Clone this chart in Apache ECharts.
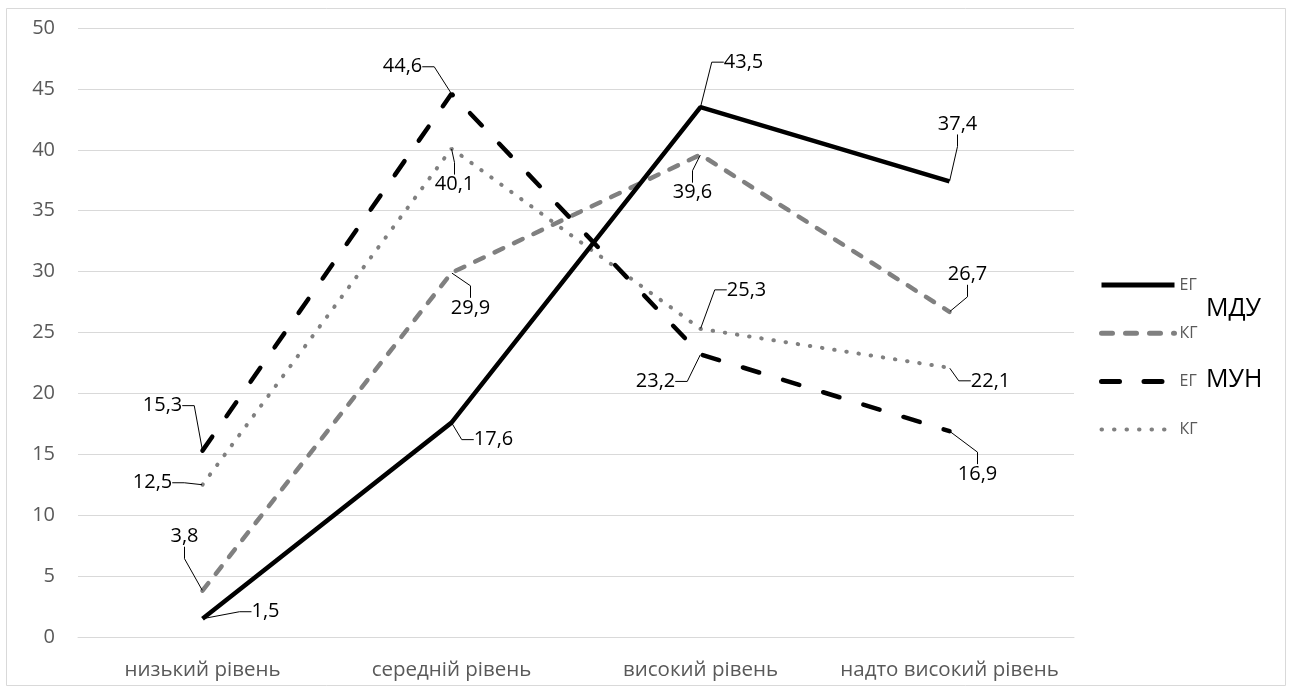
<!DOCTYPE html>
<html>
<head>
<meta charset="utf-8">
<script src="https://cdn.jsdelivr.net/npm/echarts@6/dist/echarts.min.js"></script>
<style>
  html, body { margin: 0; padding: 0; background: #fff; }
  #chart { width: 1292px; height: 689px; }
</style>
</head>
<body>
<div id="chart"></div>
<script>
// Category axis and value ticks
const categories = ['низький рівень', 'середній рівень', 'високий рівень', 'надто високий рівень'];
const yTicks = { min: 0, max: 50, interval: 5 };

// Results by group (%)
const egMDU = [1.5, 17.6, 43.5, 37.4];
const kgMDU = [3.8, 29.9, 39.6, 26.7];
const egMUN = [15.3, 44.6, 23.2, 16.9];
const kgMUN = [12.5, 40.1, 25.3, 22.1];

// Label placement relative to each point (px)
const offEgMDU = [[63, -7], [42, 17], [43, -45], [8, -57]];
const offKgMDU = [[-18, -54], [19, 35], [-8, 38], [18, -37]];
const offEgMUN = [[-40, -45], [-49, -27], [-45, 27], [28, 43]];
const offKgMUN = [[-50, -2], [3, 36], [46, -39], [41, 13]];

const FONT = '"Open Sans", "Noto Sans", sans-serif';

// Line looks shared by plot and legend
const STYLE = {
  egMDU: { color: '#000', width: 4.5, type: 'solid' },
  kgMDU: { color: '#808080', width: 4.5, type: [9.5, 12], cap: 'round' },
  egMUN: { color: '#000', width: 4.5, type: [17, 25], cap: 'round' },
  kgMUN: { color: '#808080', width: 4, type: [0.5, 11.8], cap: 'round' }
};

function fmt(v) { return String(v).replace('.', ','); }

function makeSeries(name, values, offsets, lineStyle, z) {
  return {
    name: name,
    type: 'line',
    data: values,
    z: z,
    symbol: 'circle',
    symbolSize: 1,
    itemStyle: { color: 'rgba(0,0,0,0)' },
    lineStyle: lineStyle,
    emphasis: { disabled: true },
    label: {
      show: true,
      position: 'inside',
      color: '#000',
      fontFamily: FONT,
      fontSize: 20,
      formatter: p => fmt(p.value)
    },
    labelLine: {
      show: true,
      length2: 12,
      lineStyle: { color: '#000', width: 1 }
    },
    labelLayout: p => ({ dx: offsets[p.dataIndex][0], dy: offsets[p.dataIndex][1] })
  };
}

const chart = echarts.init(document.getElementById('chart'), null, { renderer: 'canvas' });

chart.setOption({
  animation: false,
  backgroundColor: '#fff',
  textStyle: { fontFamily: FONT },
  grid: { left: 78, right: 218, top: 28, bottom: 52 },
  xAxis: {
    type: 'category',
    data: categories,
    boundaryGap: true,
    axisLine: { lineStyle: { color: '#d9d9d9', width: 1 } },
    axisTick: { show: false },
    axisLabel: { color: '#595959', fontSize: 20.5, fontFamily: FONT, margin: 23, interval: 0 }
  },
  yAxis: {
    type: 'value',
    min: yTicks.min,
    max: yTicks.max,
    interval: yTicks.interval,
    axisLine: { show: false },
    axisTick: { show: false },
    splitLine: { lineStyle: { color: '#d9d9d9', width: 1 } },
    axisLabel: { color: '#595959', fontSize: 20, fontFamily: FONT, margin: 23 }
  },
  legend: {
    orient: 'vertical',
    left: 1099,
    top: 277,
    padding: 0,
    itemWidth: 73,
    itemHeight: 14,
    itemGap: 32.2,
    selectedMode: false,
    itemStyle: { opacity: 0 },
    textStyle: { color: '#595959', fontSize: 16, fontFamily: FONT },
    formatter: name => name.split(' ')[0],
    data: [
      { name: 'ЕГ МДУ', lineStyle: Object.assign({}, STYLE.egMDU, { width: 5 }) },
      { name: 'КГ МДУ', lineStyle: Object.assign({}, STYLE.kgMDU, { width: 5, type: [11, 13] }) },
      { name: 'ЕГ МУН', lineStyle: Object.assign({}, STYLE.egMUN, { width: 5, type: [18, 24.5] }) },
      { name: 'КГ МУН', lineStyle: Object.assign({}, STYLE.kgMUN, { width: 4, type: [0.5, 12] }) }
    ]
  },
  graphic: [
    {
      type: 'rect',
      silent: true,
      shape: { x: 6.5, y: 8.5, width: 1279, height: 677 },
      style: { fill: 'none', stroke: '#d9d9d9', lineWidth: 1 }
    },
    {
      type: 'text', left: 1206, top: 296, silent: true,
      style: { text: 'МДУ', fill: '#000', font: '25px ' + FONT }
    },
    {
      type: 'text', left: 1206, top: 367, silent: true,
      style: { text: 'МУН', fill: '#000', font: '25px ' + FONT }
    }
  ],
  series: [
    makeSeries('КГ МУН', kgMUN, offKgMUN, STYLE.kgMUN, 2),
    makeSeries('КГ МДУ', kgMDU, offKgMDU, STYLE.kgMDU, 3),
    makeSeries('ЕГ МУН', egMUN, offEgMUN, STYLE.egMUN, 4),
    makeSeries('ЕГ МДУ', egMDU, offEgMDU, STYLE.egMDU, 5)
  ]
});
</script>
</body>
</html>
